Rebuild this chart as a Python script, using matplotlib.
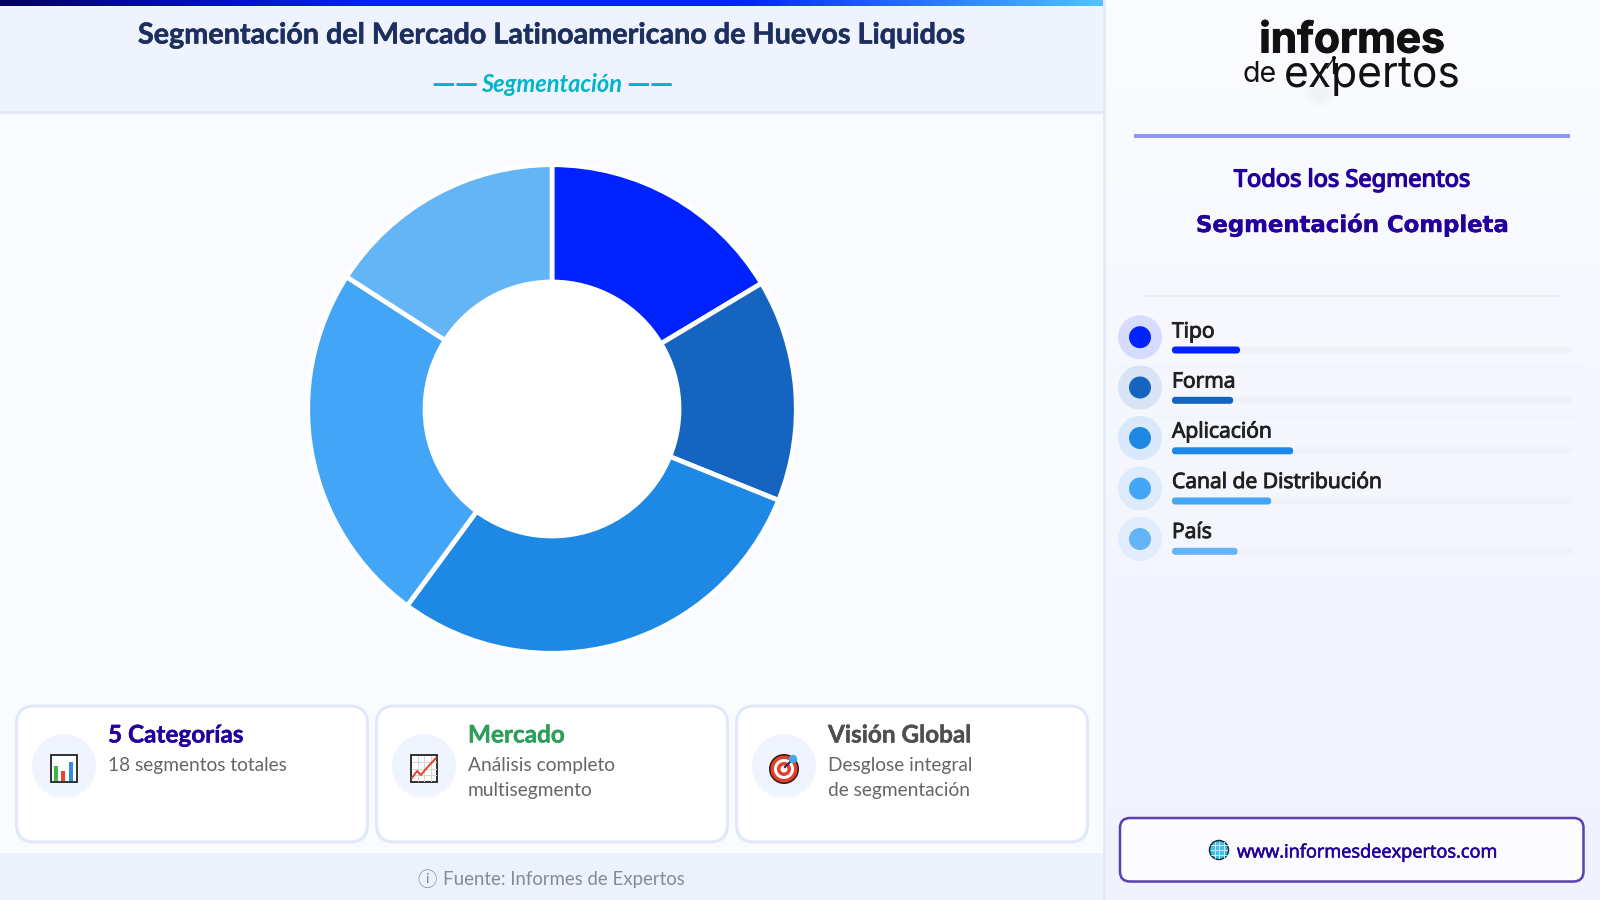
import numpy as np
import matplotlib
matplotlib.use('Agg')
import matplotlib.pyplot as plt
import matplotlib.patheffects as pe
from matplotlib.colors import LinearSegmentedColormap
from matplotlib.patches import Circle, FancyBboxPatch, Rectangle

# data
segmentos = ['Tipo', 'Forma', 'Aplicación', 'Canal de Distribución', 'País']
cuota = [16.4, 14.7, 29.0, 24.0, 15.9]
barra_pct = [17.0, 15.3, 30.3, 24.8, 16.4]
colores = ['#0022ff', '#1565c0', '#1e88e5', '#42a5f5', '#64b5f6']

tarjeta_titulos = ['5 Categorías', 'Mercado', 'Visión Global']
tarjeta_lineas = [['18 segmentos totales'],
                  ['Análisis completo', 'multisegmento'],
                  ['Desglose integral', 'de segmentación']]
tarjeta_colores = ['#24009a', '#2e9e5b', '#4f4f4f']

INDIGO = '#24009a'
W, H = 1600, 900

fig = plt.figure(figsize=(16, 9), dpi=100)
ax = fig.add_axes([0, 0, 1, 1])
ax.set_axis_off()


def degradado(a, extent, cols, vertical=False):
    cmap = LinearSegmentedColormap.from_list('g', cols)
    g = np.linspace(0, 1, 256)
    g = g.reshape(-1, 1) if vertical else g.reshape(1, -1)
    a.imshow(g, cmap=cmap, extent=extent, aspect='auto', zorder=1)


def caja(x0, y0, x1, y1, radio, fc, ec='none', lw=0, z=3):
    ax.add_patch(FancyBboxPatch((x0, y0), x1 - x0, y1 - y0,
                                boxstyle=f'round,pad=0,rounding_size={radio}',
                                fc=fc, ec=ec, lw=lw, zorder=z))


def texto(x, y, s, size, color, family='Open Sans', weight='normal', ha='left', style='normal', grueso=0):
    t = ax.text(x, y, s, fontsize=size, color=color, family=family, weight=weight,
                ha=ha, va='center_baseline', style=style, zorder=6)
    # some families only come in regular, so thicken them with a stroke
    if grueso:
        t.set_path_effects([pe.withStroke(linewidth=grueso, foreground=color)])


# fondos
ax.add_patch(Rectangle((0, 0), 1103, H, fc='#f9fbff', ec='none', zorder=0))
degradado(ax, (1106, W, H, 0), ['#fbfcff', '#f0f2fe'], vertical=True)
ax.add_patch(Rectangle((1103, 0), 3, H, fc='#e4eaf8', ec='none', zorder=2))
ax.add_patch(Rectangle((0, 6), 1103, 105, fc='#eef3fe', ec='none', zorder=2))
ax.add_patch(Rectangle((0, 111), 1103, 3, fc='#e3e9f5', ec='none', zorder=2))
degradado(ax, (0, 1103, 6, 0), ['#00005f', '#0020ff', '#0022ff', '#4fc3ff'])
ax.add_patch(Rectangle((0, 853), 1103, 47, fc='#edf1fa', ec='none', zorder=2))
ax.set_xlim(0, W)
ax.set_ylim(H, 0)

# cabecera
texto(552, 33, 'Segmentación del Mercado Latinoamericano de Huevos Liquidos', 20.7, '#1c2f5e',
      family='Lato', weight='bold', ha='center', grueso=0.4)
texto(552, 82, 'Segmentación', 17, '#00b4cc', family='Lato', weight='bold', ha='center', style='italic')
texto(455, 82, '——', 21.5, '#00b4cc', family='Lato', weight='bold', ha='center')
texto(650, 82, '——', 21.5, '#00b4cc', family='Lato', weight='bold', ha='center')

# donut
cx, cy, R = 552, 409, 245.5
ax_d = fig.add_axes([(cx - R) / W, 1 - (cy + R) / H, 2 * R / W, 2 * R / H])
ax_d.pie(cuota, colors=colores, startangle=90, counterclock=False, radius=1,
         wedgeprops=dict(width=0.48, edgecolor='white', linewidth=3.4))
ax_d.add_patch(Circle((0, 0), 0.525, fc='white', ec='none', zorder=5))
ax_d.set_xlim(-1.005, 1.005)
ax_d.set_ylim(-1.005, 1.005)

# tarjetas
card_x = [(16.5, 367.5), (376.5, 727.5), (736.5, 1087.5)]
icon_x = [64, 424, 784]
text_x = [108, 468, 828]
for i in range(3):
    caja(card_x[i][0], 706, card_x[i][1], 842, 18, 'white', '#e1e8f7', 2.2)
    ax.add_patch(Circle((icon_x[i], 766), 32, fc='#eff4fe', ec='none', zorder=4))
    texto(text_x[i], 733, tarjeta_titulos[i], 17.5, tarjeta_colores[i], family='Lato', weight='bold', grueso=0.3)
    for j, linea in enumerate(tarjeta_lineas[i]):
        texto(text_x[i], 763.5 + j * 25.5, linea, 13.8, '#666666', family='Lato')

# icono barras
ax.add_patch(Rectangle((51, 755), 26, 27, fc='white', ec='#222222', lw=1.3, zorder=5))
for bx, bh, bc in [(54, 15, '#3cb54a'), (61, 10, '#e8452c'), (69, 19, '#2f8fdc')]:
    ax.add_patch(Rectangle((bx, 781 - bh), 4, bh, fc=bc, ec='none', zorder=6))
# icono linea
ax.add_patch(Rectangle((411, 755), 26, 27, fc='white', ec='#222222', lw=1.3, zorder=5))
for gx in [418, 424, 431]:
    ax.plot([gx, gx], [756, 781], color='#d5d5d5', lw=0.7, zorder=6)
for gy in [762, 769, 775]:
    ax.plot([412, 436], [gy, gy], color='#d5d5d5', lw=0.7, zorder=6)
ax.plot([412, 417, 421, 425, 436], [778, 771, 775, 770, 758], color='#e0442a', lw=1.4, zorder=7)
# icono diana
for rr, rc in [(15, '#2b1b14'), (13.5, '#e2402a'), (10, 'white'), (7, '#e2402a'), (3.5, 'white')]:
    ax.add_patch(Circle((784, 769), rr, fc=rc, ec='none', zorder=5))
ax.plot([785, 793], [767, 759], color='#2f2f4f', lw=1.6, zorder=7)
ax.add_patch(Circle((793, 759), 4.2, fc='#45a8e8', ec='none', zorder=7))

# pie de pagina
texto(427.5, 878, 'ⓘ', 14, '#858a93', family=['Noto Sans CJK JP', 'DejaVu Sans'], ha='center')
texto(443, 877.5, 'Fuente: Informes de Expertos', 13.45, '#858a93', family='Lato')

# logo
for rr, al in [(16, 0.012), (12, 0.015), (8, 0.02)]:
    ax.add_patch(Circle((1320, 92), rr, fc='#555555', alpha=al, ec='none', zorder=3))
texto(1352, 36.5, 'informes', 30.5, '#111111', family='Inter', weight='bold', ha='center', grueso=0.7)
texto(1260, 71, 'de', 20.5, '#111111', family='Inter', ha='center')
texto(1372, 71, 'expertos', 30.7, '#111111', family='Inter', ha='center')
ax.plot([1334, 1334], [58, 73], color='#111111', lw=1.6, zorder=7)
ax.plot([1327, 1334], [68, 58], color='#111111', lw=1.0, zorder=7)
ax.add_patch(Circle((1334, 58), 2, fc='#111111', ec='none', zorder=7))

# titulos del panel
ax.add_patch(Rectangle((1134, 134), 436, 4, fc='#8b9cf4', ec='none', zorder=3))
texto(1352, 177.5, 'Todos los Segmentos', 17, INDIGO, family='Noto Sans', ha='center', grueso=1.0)
texto(1352, 222.5, 'Segmentación Completa', 16.4, INDIGO, family='DejaVu Sans', weight='bold', ha='center', grueso=0.3)
ax.plot([1144, 1560], [295.5, 295.5], color='#eceff8', lw=1.4, zorder=3)

# lista de segmentos
fila_y = [337.2, 387.5, 438, 488.5, 539]
lab_y = [329.5, 379.5, 429.5, 480, 530]
bar_y = [350, 400.3, 450.8, 501, 551.3]
TRACK = 400
for i, seg in enumerate(segmentos):
    ax.add_patch(Circle((1140, fila_y[i]), 22, fc=colores[i], alpha=0.13, ec='none', zorder=3))
    ax.add_patch(Circle((1140, fila_y[i]), 11, fc=colores[i], ec='none', zorder=4))
    texto(1172, lab_y[i], seg, 15.2, '#212121', family='Open Sans', grueso=0.7)
    caja(1172, bar_y[i] - 3.5, 1172 + TRACK, bar_y[i] + 3.5, 3.5, '#f1f2f9')
    caja(1172, bar_y[i] - 3.5, 1172 + TRACK * barra_pct[i] / 100, bar_y[i] + 3.5, 3.5, colores[i], z=4)
    if i < 4:
        ax.plot([1124, 1580], [fila_y[i] + 29.5] * 2, color='#f2f4fb', lw=1, zorder=2)

# enlace
caja(1120, 818, 1583.5, 881.5, 10, '#fcfcff', '#5b3fb0', 1.8)
ax.add_patch(Circle((1219, 850), 9.5, fc='#45bfe6', ec='#16323c', lw=1.1, zorder=5))
for gy in [845, 850, 855]:
    ax.plot([1211, 1227], [gy, gy], color='#d8f3fb', lw=0.6, zorder=6)
for gx in [1214.5, 1219, 1223.5]:
    ax.plot([gx, gx], [842, 858], color='#d8f3fb', lw=0.6, zorder=6)
texto(1237, 850.5, 'www.informesdeexpertos.com', 13.1, INDIGO, family='Open Sans', grueso=0.45)

fig.savefig('out.png', dpi=100)
